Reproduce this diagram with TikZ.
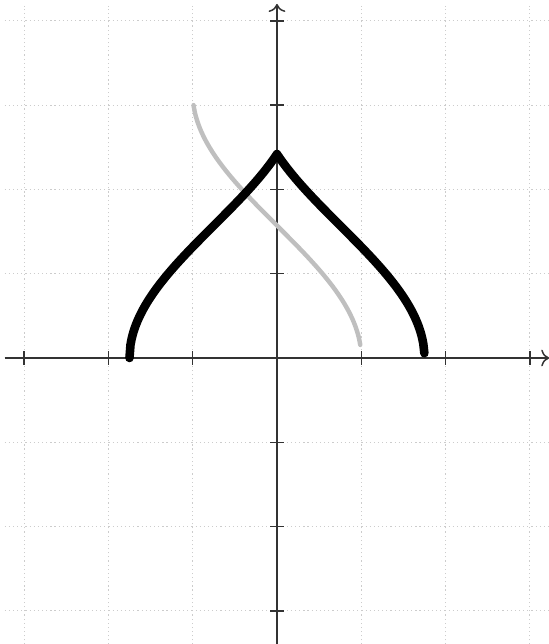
\documentclass[tikz,border=0pt]{standalone}
\usetikzlibrary{arrows.meta}

\begin{document}
\begin{tikzpicture}[x=1cm,y=1cm,>=To,
  gridline/.style={gray!40,densely dotted,line width=0.4pt},
  axisline/.style={black!80,line width=0.5pt},
  curveA/.style={black,line width=2.9pt,line cap=round,line join=round},
  curveB/.style={black!25,line width=1.5pt,line cap=round,line join=round}]
\useasboundingbox (-3.286,-3.393) rectangle (3.227,4.247);
% grid
\foreach \i in {-3,...,3}
  \draw[gridline] (\i,-3.4) -- (\i,4.18);
\foreach \j in {-3,...,4}
  \draw[gridline] (-3.23,\j) -- (3.23,\j);
% axes
\draw[axisline,->] (-3.23,0) -- (3.23,0);
\draw[axisline,->] (0,-3.4) -- (0,4.2);
\foreach \i in {-3,...,3}
  \draw[axisline] (\i,-0.08) -- (\i,0.08);
\foreach \j in {-3,...,4}
  \draw[axisline] (-0.08,\j) -- (0.08,\j);
% curves
\draw[curveB] plot[domain=-0.99:0.99,samples=150,smooth] ({\x},{rad(acos(\x))});
\draw[curveA] plot[domain=-1.75:0,samples=150] ({\x},{rad(acos(-\x-0.75))})
  -- plot[domain=0:1.75,samples=150] ({\x},{rad(acos(\x-0.75))});
\end{tikzpicture}
\end{document}
